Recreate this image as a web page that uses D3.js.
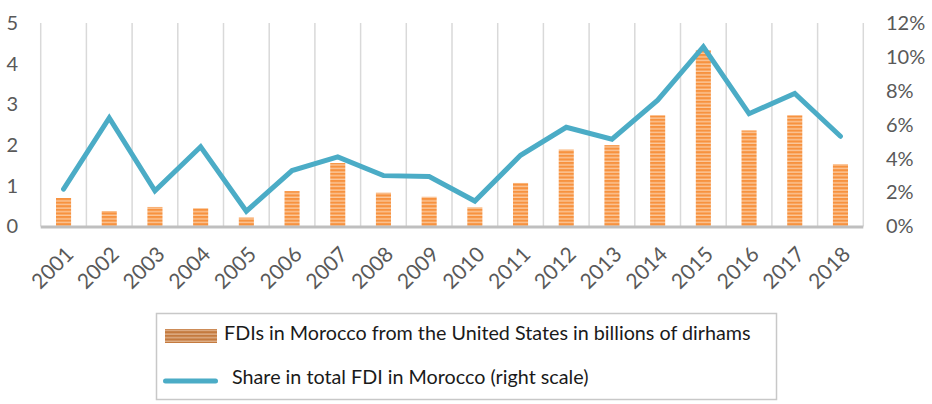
<!DOCTYPE html>
<html>
<head>
<meta charset="utf-8">
<script src="https://cdn.jsdelivr.net/npm/d3@7"></script>
<style>
  html, body { margin: 0; padding: 0; background: #fff; }
  svg { display: block; }
  text { font-family: Lato, "Open Sans", "DejaVu Sans", sans-serif; fill: #595959; }
</style>
</head>
<body>
<svg id="chart" width="932" height="404"></svg>
<script>
// Years on the category axis
const years = ["2001","2002","2003","2004","2005","2006","2007","2008","2009",
               "2010","2011","2012","2013","2014","2015","2016","2017","2018"];
// US FDI into Morocco, billions of dirhams (left scale)
const fdiUS = [0.70, 0.38, 0.48, 0.45, 0.22, 0.87, 1.56, 0.83, 0.73,
               0.47, 1.07, 1.89, 2.00, 2.73, 4.33, 2.36, 2.73, 1.53];
// Share of US in total FDI into Morocco (right scale)
const shareUS = [0.022, 0.064, 0.021, 0.047, 0.009, 0.033, 0.041, 0.030, 0.0295,
                 0.015, 0.042, 0.0585, 0.0515, 0.0745, 0.106, 0.0665, 0.0785, 0.0532];
// Tick values for both value axes
const leftTicks = [0, 1, 2, 3, 4, 5];
const rightTicks = [0, 0.02, 0.04, 0.06, 0.08, 0.10, 0.12];
// Legend entries
const legendLabels = ["FDIs in Morocco from the United States in billions of dirhams",
                      "Share in total FDI in Morocco (right scale)"];

const svg = d3.select("#chart");

const plot = { left: 40.7, right: 863.3, top: 23, bottom: 226.5 };

const x = d3.scaleBand().domain(years).range([plot.left, plot.right]).padding(0);
const yL = d3.scaleLinear().domain([0, 5]).range([plot.bottom, plot.top]);
const yR = d3.scaleLinear().domain([0, 0.12]).range([plot.bottom, plot.top]);

// Striped fills for the bars and the legend swatch
const defs = svg.append("defs");
function stripes(id, base, light, period, lightH) {
  const p = defs.append("pattern").attr("id", id)
    .attr("patternUnits", "userSpaceOnUse")
    .attr("width", 8).attr("height", period);
  p.append("rect").attr("width", 8).attr("height", period).attr("fill", base);
  p.append("rect").attr("y", period - lightH).attr("width", 8).attr("height", lightH).attr("fill", light);
}
stripes("barStripes", "#f7923f", "#fbc89c", 3.6, 1.4);
stripes("legendStripes", "#c47a3f", "#dfb089", 3.6, 1.4);

// Vertical gridlines at category boundaries
const bounds = years.map(d => x(d)).concat([plot.right]);
svg.append("g").selectAll("line").data(bounds).join("line")
  .attr("x1", d => d).attr("x2", d => d)
  .attr("y1", plot.top).attr("y2", plot.bottom)
  .attr("stroke", "#d9d9d9").attr("stroke-width", 1.5);

// Bars
const barW = x.bandwidth() * 0.33;
svg.append("g").selectAll("rect").data(years).join("rect")
  .attr("x", d => x(d) + x.bandwidth() / 2 - barW / 2)
  .attr("width", barW)
  .attr("y", (d, i) => yL(fdiUS[i]))
  .attr("height", (d, i) => yL(0) - yL(fdiUS[i]))
  .attr("fill", "url(#barStripes)");

// Category axis line
svg.append("line")
  .attr("x1", plot.left).attr("x2", plot.right)
  .attr("y1", plot.bottom + 0.5).attr("y2", plot.bottom + 0.5)
  .attr("stroke", "#bfbfbf").attr("stroke-width", 3);

// Share line
const line = d3.line()
  .x((d, i) => x(years[i]) + x.bandwidth() / 2)
  .y(d => yR(d));
svg.append("path").datum(shareUS)
  .attr("d", line)
  .attr("fill", "none")
  .attr("stroke", "#4bacc6")
  .attr("stroke-width", 5)
  .attr("stroke-linejoin", "miter")
  .attr("stroke-linecap", "round");

// Left axis
const gL = svg.append("g").attr("transform", "translate(20,0)")
  .call(d3.axisLeft(yL).tickValues(leftTicks).tickSize(0).tickPadding(2).tickFormat(d3.format("d")));
gL.select(".domain").remove();
gL.selectAll("text").style("font-size", "20px").attr("fill", "#595959")
  .style("font-family", "Lato, 'Open Sans', sans-serif");

// Right axis
const gR = svg.append("g").attr("transform", "translate(884,0)")
  .call(d3.axisRight(yR).tickValues(rightTicks).tickSize(0).tickPadding(2).tickFormat(d3.format(".0%")));
gR.select(".domain").remove();
gR.selectAll("text").style("font-size", "20px").attr("fill", "#595959")
  .style("font-family", "Lato, 'Open Sans', sans-serif");

// Rotated year labels
svg.append("g").selectAll("text").data(years).join("text")
  .attr("transform", d => `translate(${x(d) + x.bandwidth() / 2 + 6},${plot.bottom + 24}) rotate(-45)`)
  .attr("text-anchor", "end")
  .attr("dy", "0.35em")
  .style("font-size", "21px")
  .text(d => d);

// Legend
const lg = svg.append("g");
lg.append("rect")
  .attr("x", 156.5).attr("y", 313.5).attr("width", 620).attr("height", 86)
  .attr("fill", "#fff").attr("stroke", "#c8c8c8").attr("stroke-width", 1.5);
lg.append("rect")
  .attr("x", 165).attr("y", 329).attr("width", 52).attr("height", 14)
  .attr("fill", "url(#legendStripes)");
lg.append("line")
  .attr("x1", 165.5).attr("x2", 215.5).attr("y1", 381).attr("y2", 381)
  .attr("stroke", "#4bacc6").attr("stroke-width", 5).attr("stroke-linecap", "round");
const t1 = lg.append("text").attr("x", 224).attr("y", 333).attr("dy", "0.35em")
  .style("font-size", "18px").style("fill", "#1a1a1a").text(legendLabels[0]);
const t2 = lg.append("text").attr("x", 232).attr("y", 377).attr("dy", "0.35em")
  .style("font-size", "18px").style("fill", "#1a1a1a").text(legendLabels[1]);
// Fit the first entry to its slot width; apply the same size to the second
const w1 = t1.node().getComputedTextLength();
const fs = 18 * 527 / w1;
t1.style("font-size", fs + "px");
t2.style("font-size", fs + "px");
</script>
</body>
</html>
